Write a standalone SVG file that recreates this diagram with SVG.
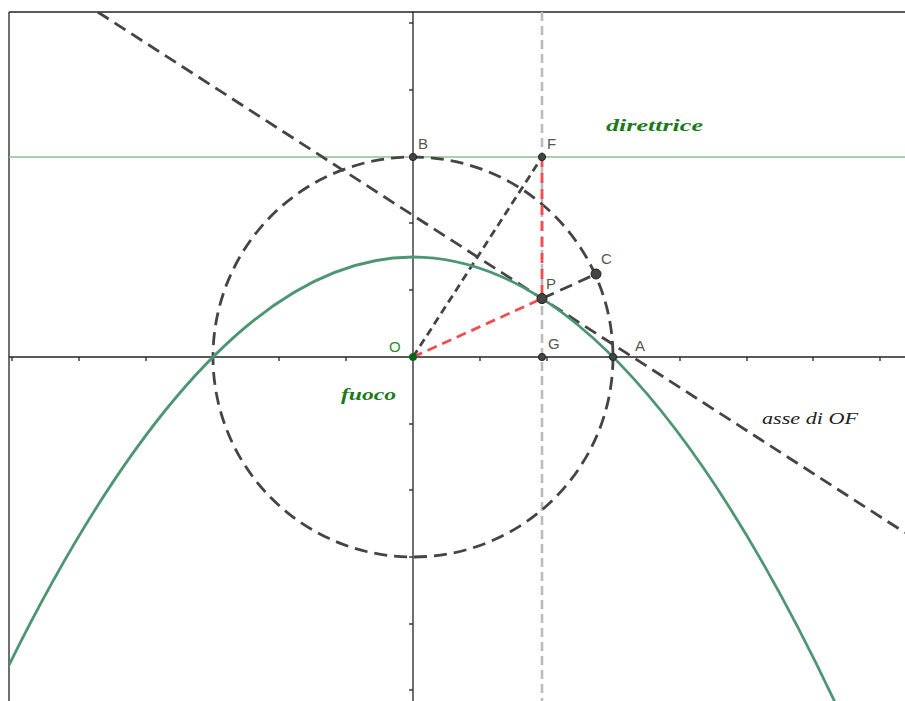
<svg xmlns="http://www.w3.org/2000/svg" width="905" height="701" viewBox="0 0 905 701">
<style>
.ax{stroke:#222;stroke-width:1.3;fill:none}
.tk{stroke:#222;stroke-width:1.3}
.dash{stroke:#444;stroke-width:2.8;fill:none;stroke-dasharray:13 7}
.sdash{stroke:#444;stroke-width:2.8;fill:none;stroke-dasharray:8 5}
.red{stroke:#f24e4e;stroke-width:2.8;fill:none;stroke-dasharray:10 6}
.pt{fill:#444;stroke:#222;stroke-width:1}
.lbl{font-family:"Liberation Sans",Arial,sans-serif;font-size:15px;fill:#555}
.tex{font-family:"Liberation Serif","Times New Roman",serif;font-style:italic}
</style>
<defs>
<clipPath id="frame"><rect x="9" y="12" width="896" height="689"/></clipPath>
</defs>
<rect x="0" y="0" width="905" height="701" fill="#fff"/>
<g id="frame-lines" class="ax">
<line x1="9" y1="12" x2="905" y2="12"/>
<line x1="9" y1="12" x2="9" y2="701"/>
</g>
<g id="axes">
<line class="ax" x1="9" y1="357" x2="905" y2="357"/>
<line class="ax" x1="413" y1="12" x2="413" y2="701"/>
<g class="tk">
<line x1="12" y1="357" x2="12" y2="361"/>
<line x1="79" y1="357" x2="79" y2="361"/>
<line x1="146" y1="357" x2="146" y2="361"/>
<line x1="213" y1="357" x2="213" y2="361"/>
<line x1="279" y1="357" x2="279" y2="361"/>
<line x1="346" y1="357" x2="346" y2="361"/>
<line x1="480" y1="357" x2="480" y2="361"/>
<line x1="547" y1="357" x2="547" y2="361"/>
<line x1="613" y1="357" x2="613" y2="361"/>
<line x1="680" y1="357" x2="680" y2="361"/>
<line x1="747" y1="357" x2="747" y2="361"/>
<line x1="813" y1="357" x2="813" y2="361"/>
<line x1="880" y1="357" x2="880" y2="361"/>
<line x1="409" y1="23" x2="413" y2="23"/>
<line x1="409" y1="90" x2="413" y2="90"/>
<line x1="409" y1="157" x2="413" y2="157"/>
<line x1="409" y1="223" x2="413" y2="223"/>
<line x1="409" y1="290" x2="413" y2="290"/>
<line x1="409" y1="424" x2="413" y2="424"/>
<line x1="409" y1="490" x2="413" y2="490"/>
<line x1="409" y1="557" x2="413" y2="557"/>
<line x1="409" y1="624" x2="413" y2="624"/>
<line x1="409" y1="690" x2="413" y2="690"/>
</g>
</g>
<g id="connectors" clip-path="url(#frame)">
<line id="direttrice-line" x1="9" y1="157" x2="905" y2="157" stroke="#8fbf8f" stroke-width="1.6"/>
<line id="vertical-FG" x1="542" y1="12" x2="542" y2="701" stroke="#bbb" stroke-width="2.6" stroke-dasharray="9 5"/>
<circle id="circle" cx="413" cy="357" r="200" class="dash"/>
<line id="asse" x1="97.7" y1="12" x2="905" y2="532.7" class="dash"/>
<line id="OF" x1="413" y1="357" x2="542" y2="157" class="sdash"/>
<line id="PC" x1="542" y1="298.6" x2="596" y2="274" class="dash"/>
<path id="parabola" d="M9,665.04 Q423.5,-172.25 838,708.6" fill="none" stroke="#4e9673" stroke-width="2.8"/>
<line id="FP" x1="542" y1="157" x2="542" y2="298.6" class="red"/>
<line id="OP" x1="413" y1="357" x2="542" y2="298.6" class="red"/>
</g>
<g id="node-B"><circle class="pt" cx="413" cy="157" r="3.6"/><text class="lbl" x="418" y="149">B</text></g>
<g id="node-F"><circle class="pt" cx="542" cy="157" r="3.6"/><text class="lbl" x="547" y="149">F</text></g>
<g id="node-C"><circle class="pt" cx="596" cy="274" r="5"/><text class="lbl" x="601" y="264">C</text></g>
<g id="node-P"><circle class="pt" cx="542" cy="298.6" r="5"/><text class="lbl" x="546" y="289">P</text></g>
<g id="node-G"><circle class="pt" cx="542" cy="357" r="3.6"/><text class="lbl" x="548" y="349">G</text></g>
<g id="node-A"><circle class="pt" cx="613" cy="357" r="3.6"/><text class="lbl" x="635" y="351">A</text></g>
<g id="node-O"><circle cx="413" cy="357" r="3.6" fill="#0a640a" stroke="#063" stroke-width="1"/><text class="lbl" x="389" y="352" style="fill:#2e8b2e">O</text></g>
<g id="label-direttrice"><text class="tex" x="606" y="131" font-size="17" font-weight="bold" fill="#1c7a1c" textLength="97" lengthAdjust="spacingAndGlyphs">direttrice</text></g>
<g id="label-fuoco"><text class="tex" x="341" y="400" font-size="17" font-weight="bold" fill="#1c7a1c" textLength="55" lengthAdjust="spacingAndGlyphs">fuoco</text></g>
<g id="label-asse"><text class="tex" x="762" y="424" font-size="17" fill="#222" textLength="96" lengthAdjust="spacingAndGlyphs">asse di OF</text></g>
</svg>
